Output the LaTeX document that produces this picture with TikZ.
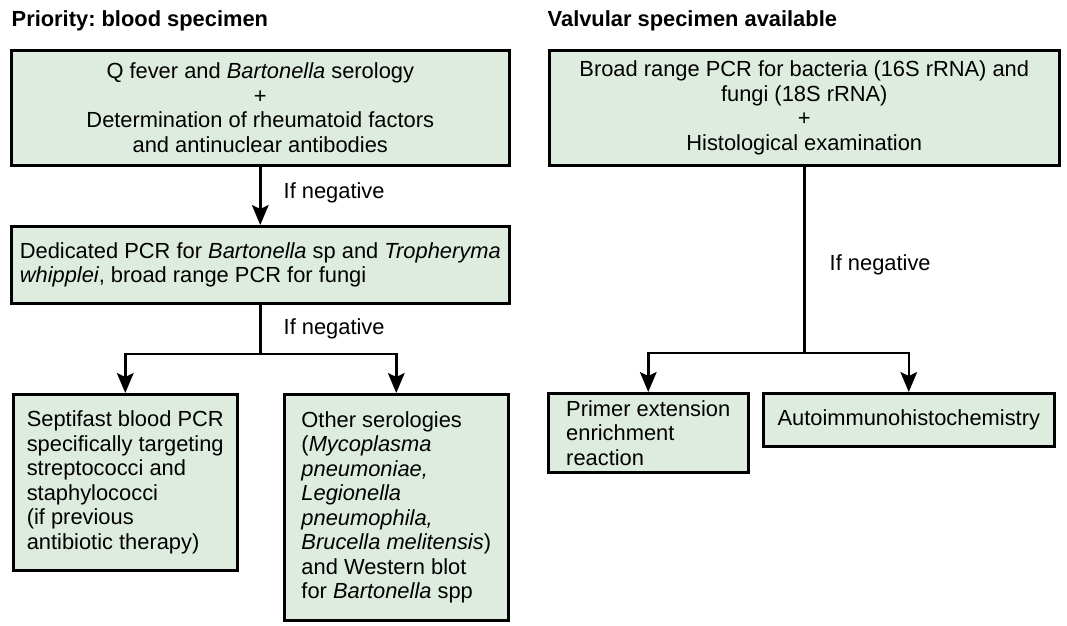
\documentclass[tikz,border=0pt]{standalone}
\usepackage{fontspec}
\setmainfont{Liberation Sans}
\usepackage{xcolor}
\usepackage{tikz}
\usetikzlibrary{positioning,arrows.meta}
\definecolor{boxgreen}{RGB}{222,236,223}
\frenchspacing

\begin{document}
\begin{tikzpicture}[x=0.75pt, y=-0.75pt, every node/.style={font=\fontsize{16.4}{18.4}\selectfont}, box/.style={draw, line width=1.9pt, fill=boxgreen, anchor=north west, align=left, inner sep=3pt}, arr/.style={-{Stealth[length=15pt,width=12.5pt,inset=3pt]}}, link/.style={line width=1.9pt}, title/.style={anchor=west, font=\fontsize{16.4}{18.4}\selectfont\bfseries}]
\useasboundingbox (0,0) rectangle (1067,625);
\node[title] (lefttitle) at (7,21) {Priority: blood specimen};
\node[title] (righttitle) at (543,21) {Valvular specimen available};
\node[box, align=center, minimum width=373.5pt, minimum height=86.25pt] (qfever) at (10,49) {Q fever and \textit{Bartonella} serology\\+\\Determination of rheumatoid factors\\and antinuclear antibodies};
\node[box, align=center, minimum width=382.5pt, minimum height=86.25pt] (broadpcr) at (548,49) {Broad range PCR for bacteria (16S rRNA) and\\fungi (18S rRNA)\\+\\Histological examination};
\node[box, minimum width=373.5pt, minimum height=57.75pt] (dedpcr) at (10,225) {Dedicated PCR for \textit{Bartonella} sp and \textit{Tropheryma}\\\textit{whipplei}, broad range PCR for fungi};
\node[box, minimum width=168pt, minimum height=132pt] (septifast) at (12,393) {Septifast blood PCR\\specifically targeting\\streptococci and\\staphylococci\\(if previous\\antibiotic therapy)};
\node[box, minimum width=168pt, minimum height=169.5pt] (otherser) at (283,393) {Other serologies\\(\textit{Mycoplasma}\\\textit{pneumoniae,}\\\textit{Legionella}\\\textit{pneumophila,}\\\textit{Brucella melitensis})\\and Western blot\\for \textit{Bartonella} spp};
\node[box, minimum width=150pt, minimum height=59.25pt] (primer) at (547,392) {Primer extension\\enrichment\\reaction};
\node[box, minimum width=218.25pt, minimum height=39.75pt] (autoimmuno) at (762,392) {Autoimmunohistochemistry};
\node[anchor=west] (neg1) at (279,193) {If negative};
\node[anchor=west] (neg2) at (279,329) {If negative};
\node[anchor=west] (neg3) at (825,265) {If negative};
\coordinate (leftsplit) at (dedpcr.south |- 0,354);
\coordinate (rightsplit) at (broadpcr.south |- 0,353);
\draw[link, arr] (qfever) -- (dedpcr); \draw[link] (dedpcr) -- (leftsplit); \draw[link, arr] (leftsplit) -| (septifast); \draw[link, arr] (leftsplit) -| (otherser); \draw[link] (broadpcr) -- (rightsplit); \draw[link, arr] (rightsplit) -| (primer); \draw[link, arr] (rightsplit) -| (autoimmuno);
\end{tikzpicture}
\end{document}
